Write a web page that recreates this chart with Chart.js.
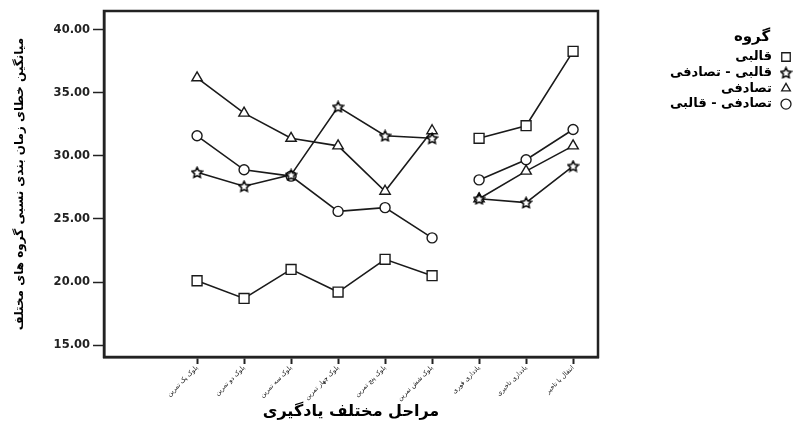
<!DOCTYPE html>
<html>
<head>
<meta charset="utf-8">
<script src="https://cdn.jsdelivr.net/npm/chart.js@4.4.1/dist/chart.umd.min.js"></script>
<style>
  html, body { margin: 0; padding: 0; background: #fff; }
  #wrap { width: 808px; height: 423px; }
</style>
</head>
<body>
<div id="wrap"><canvas id="chart" width="808" height="423"></canvas></div>
<script>
const stages = [
  "بلوک یک تمرین",
  "بلوک دو تمرین",
  "بلوک سه تمرین",
  "بلوک چهار تمرین",
  "بلوک پنج تمرین",
  "بلوک شش تمرین",
  "یادداری فوری",
  "یادداری تاخیری",
  "انتقال با تاخیر",
];
const groupNames = ["قالبی", "قالبی - تصادفی", "تصادفی", "تصادفی - قالبی"];
const blocked = [20.1, 18.7, 21.0, 19.2, 21.8, 20.5, 31.4, 32.4, 38.3];
const blockedRandom = [28.7, 27.6, 28.5, 33.9, 31.6, 31.4, 26.6, 26.3, 29.2];
const random = [36.2, 33.4, 31.4, 30.8, 27.2, 32.0, 26.6, 28.8, 30.8];
const randomBlocked = [31.6, 28.9, 28.4, 25.6, 25.9, 23.5, 28.1, 29.7, 32.1];
const yTicks = [15, 20, 25, 30, 35, 40];
const yTitle = "میانگین خطای زمان بندی نسبی گروه های مختلف";
const xTitle = "مراحل مختلف یادگیری";
const legendTitle = "گروه";

const ink = "#1a1a1a";
const font = "'DejaVu Sans', sans-serif";

// outline star for the mixed group
function makeStar(size) {
  const c = document.createElement("canvas");
  c.width = size;
  c.height = size;
  const g = c.getContext("2d");
  const cx = size / 2, cy = size / 2 + 0.5;
  const ro = size / 2 - 1, ri = ro * 0.5;
  g.beginPath();
  for (let i = 0; i < 10; i++) {
    const r = i % 2 === 0 ? ro : ri;
    const a = -Math.PI / 2 + i * Math.PI / 5;
    const px = cx + r * Math.cos(a), py = cy + r * Math.sin(a);
    if (i === 0) g.moveTo(px, py); else g.lineTo(px, py);
  }
  g.closePath();
  g.fillStyle = "#fff";
  g.fill();
  g.lineWidth = 1.5;
  g.strokeStyle = "#000";
  g.stroke();
  return c;
}
const star = makeStar(13);

const seriesList = [blocked, blockedRandom, random, randomBlocked];
const styles = [
  { pointStyle: "rect", radius: 7 },
  { pointStyle: star, radius: 6 },
  { pointStyle: "triangle", radius: 6 },
  { pointStyle: "circle", radius: 5 },
];

const datasets = seriesList.map((vals, k) => ({
  label: groupNames[k],
  data: vals.map((v, i) => ({ x: i, y: v })),
  borderColor: ink,
  borderWidth: 1.6,
  backgroundColor: "#fff",
  pointStyle: styles[k].pointStyle,
  pointRadius: styles[k].radius,
  pointBorderColor: ink,
  pointBackgroundColor: "#fff",
  pointBorderWidth: 1.4,
  tension: 0,
  segment: {
    borderColor: ctx => (ctx.p0DataIndex === 5 ? "rgba(0,0,0,0)" : undefined),
  },
}));

const framePlugin = {
  id: "frame",
  afterDraw(chart) {
    const { ctx, chartArea: a } = chart;
    ctx.save();
    ctx.strokeStyle = "#222";
    ctx.lineWidth = 2.5;
    ctx.strokeRect(a.left, a.top, a.right - a.left, a.bottom - a.top);

    // legend on the right, right-to-left
    ctx.direction = "rtl";
    ctx.fillStyle = "#000";
    ctx.textBaseline = "middle";
    ctx.textAlign = "center";
    ctx.font = "bold 15px " + font;
    ctx.fillText(legendTitle, 752, 37);
    ctx.font = "bold 13px " + font;
    ctx.textAlign = "right";
    groupNames.forEach((name, k) => {
      const y = 57 + k * 15.7;
      ctx.fillStyle = "#000";
      ctx.fillText(name, 772, y);
      const ds = chart.data.datasets[k];
      if (typeof ds.pointStyle === "string") {
        ctx.strokeStyle = ink;
        ctx.fillStyle = "#fff";
        ctx.lineWidth = 1.3;
        Chart.helpers.drawPoint(ctx, { pointStyle: ds.pointStyle, radius: ds.pointStyle === "rect" ? 6 : 5, borderWidth: 1.3 }, 786, y);
      } else {
        ctx.drawImage(ds.pointStyle, 786 - 6.5, y - 6.5);
      }
    });
    ctx.restore();
  },
};

new Chart(document.getElementById("chart"), {
  type: "line",
  data: { datasets },
  options: {
    responsive: false,
    animation: false,
    layout: { padding: { left: 0, right: 210, top: 11, bottom: 0 } },
    plugins: { legend: { display: false }, tooltip: { enabled: false } },
    scales: {
      x: {
        type: "linear",
        min: -1.98,
        max: 8.53,
        afterBuildTicks: s => { s.ticks = stages.map((_, i) => ({ value: i })); },
        afterFit: s => { s.height = 66; },
        grid: { drawOnChartArea: false, drawTicks: true, tickLength: 7, tickColor: "#222", tickWidth: 2 },
        border: { display: true, color: "#222", width: 2.5 },
        ticks: {
          autoSkip: false,
          minRotation: 45,
          maxRotation: 45,
          padding: 0,
          color: "#111",
          font: { family: font, size: 6.5 },
          callback: v => stages[v],
        },
        title: {
          display: true,
          text: xTitle,
          color: "#000",
          font: { family: font, size: 16, weight: "bold" },
          padding: { top: 0, bottom: 2 },
        },
      },
      y: {
        min: 14.05,
        max: 41.5,
        afterBuildTicks: s => { s.ticks = yTicks.map(v => ({ value: v })); },
        afterFit: s => { s.width = 104; },
        grid: { drawOnChartArea: false, drawTicks: true, tickLength: 11, tickColor: "#222", tickWidth: 1.5 },
        border: { display: true, color: "#222", width: 2.5 },
        ticks: {
          padding: 3,
          color: "#222",
          font: { family: font, size: 11.5, weight: "bold" },
          callback: v => v.toFixed(2),
        },
        title: {
          display: true,
          text: yTitle,
          color: "#000",
          font: { family: font, size: 12, weight: "bold" },
          padding: { top: 13, bottom: 0 },
        },
      },
    },
  },
  plugins: [framePlugin],
});
</script>
</body>
</html>
